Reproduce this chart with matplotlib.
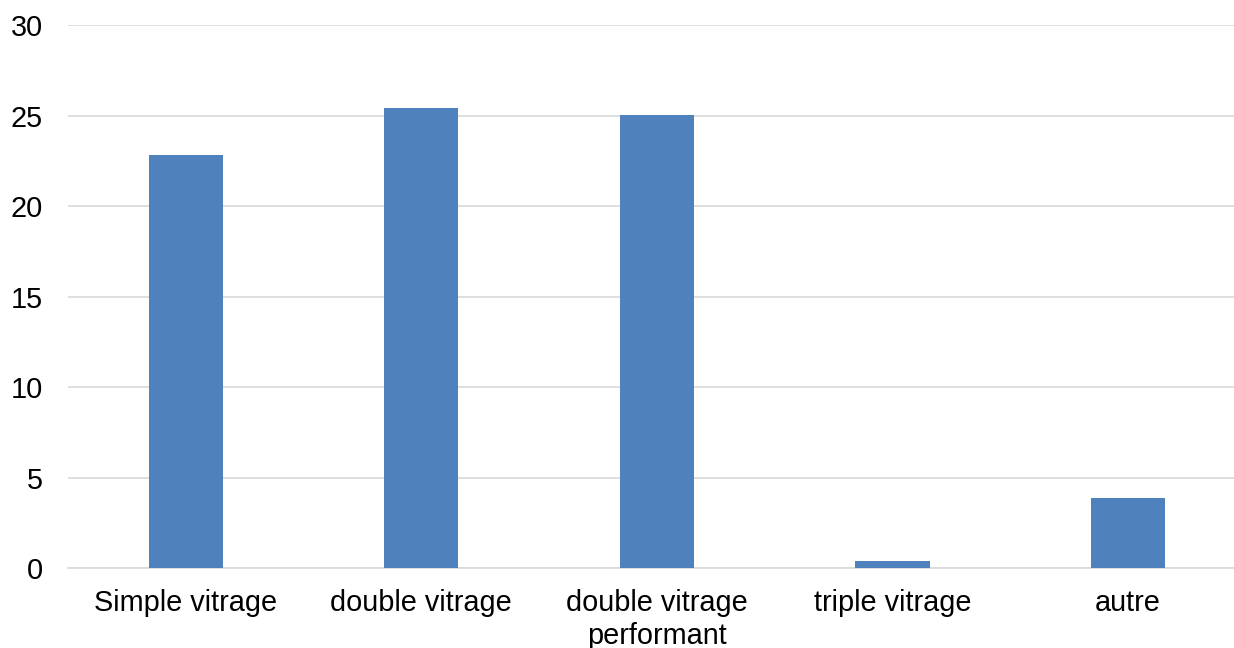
import matplotlib
matplotlib.use("Agg")
import matplotlib.pyplot as plt

categories = ["Simple vitrage", "double vitrage", "double vitrage\nperformant", "triple vitrage", "autre"]
values = [22.8, 25.4, 25.05, 0.42, 3.88]
yticks = [0, 5, 10, 15, 20, 25, 30]

plt.rcParams['font.family'] = ['Liberation Sans', 'DejaVu Sans']

fig = plt.figure(figsize=(12.34, 6.48), dpi=100)
ax = fig.add_axes([68/1234, (648-568.3)/648, (1245.75-68)/1234, (568.3-25)/648])

x = list(range(len(categories)))
ax.bar(x, values, width=0.315, color="#4F81BD", zorder=3)
ax.set_xlim(-0.5, 4.5)
ax.set_ylim(0, 30)
ax.set_yticks(yticks)
ax.set_xticks(x)
ax.set_xticklabels(categories, fontsize=20.8, color="black", linespacing=1.24)
ax.tick_params(axis='y', labelsize=20.8, length=0, pad=18, colors="black")
ax.tick_params(axis='x', length=0, pad=15)
ax.grid(axis='y', color="#D9D9D9", linewidth=1.2, zorder=0)
for s in ["top", "right", "left"]:
    ax.spines[s].set_visible(False)
ax.spines["bottom"].set_color("#D9D9D9")
ax.spines["bottom"].set_linewidth(1.2)

fig.savefig("out.png", dpi=100)
